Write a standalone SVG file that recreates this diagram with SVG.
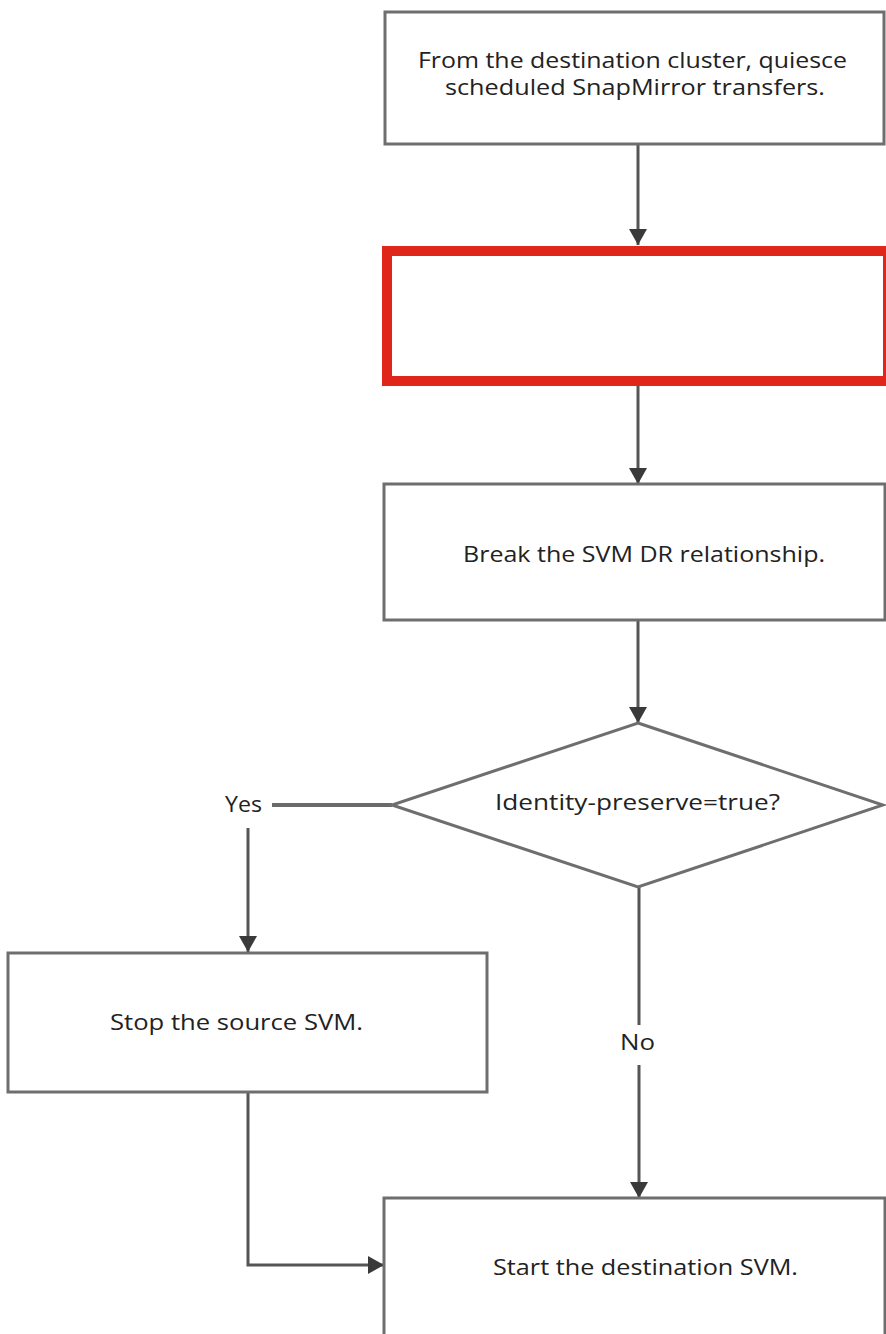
<svg xmlns="http://www.w3.org/2000/svg" width="886" height="1334" viewBox="0 0 886 1334">
<style>
.box{fill:#fff;stroke:#6e6e6e;stroke-width:3}
.red{fill:#fff;stroke:#e0261b;stroke-width:10}
.t{font-family:"Open Sans","Noto Sans","DejaVu Sans",sans-serif;font-size:21px;fill:#222}
.ln{fill:none;stroke:#555;stroke-width:3}
.yl{fill:none;stroke:#6a6a6a;stroke-width:4}
</style>
<defs>
<marker id="ah" viewBox="0 0 16 20" refX="16" refY="10" markerWidth="16" markerHeight="20" markerUnits="userSpaceOnUse" orient="auto">
<path d="M0,1 L16,10 L0,19 z" fill="#3a3a3a"/>
</marker>
</defs>
<rect width="886" height="1334" fill="#fff"/>
<g id="connectors">
<line class="ln" x1="638" y1="145" x2="638" y2="245" marker-end="url(#ah)"/>
<line class="ln" x1="638" y1="386" x2="638" y2="484" marker-end="url(#ah)"/>
<line class="ln" x1="638" y1="621" x2="638" y2="723" marker-end="url(#ah)"/>
<line class="yl" x1="272" y1="805" x2="392" y2="805"/>
<line class="ln" x1="248" y1="828" x2="248" y2="952" marker-end="url(#ah)"/>
<line class="ln" x1="639" y1="887" x2="639" y2="1025"/>
<line class="ln" x1="639" y1="1065" x2="639" y2="1198" marker-end="url(#ah)"/>
<polyline class="ln" points="248,1092 248,1265 384,1265" marker-end="url(#ah)"/>
<text class="t" x="225" y="812" textLength="37" lengthAdjust="spacingAndGlyphs">Yes</text>
<text class="t" x="620" y="1050" textLength="35" lengthAdjust="spacingAndGlyphs">No</text>
</g>
<g id="n1">
<rect class="box" x="385" y="12" width="499" height="132"/>
<text class="t" x="418" y="68" textLength="429" lengthAdjust="spacingAndGlyphs">From the destination cluster, quiesce</text>
<text class="t" x="445" y="95" textLength="380" lengthAdjust="spacingAndGlyphs">scheduled SnapMirror transfers.</text>
</g>
<g id="n2">
<rect class="red" x="387" y="251" width="501" height="130"/>
</g>
<g id="n3">
<rect class="box" x="384" y="484" width="501" height="136"/>
<text class="t" x="463" y="562" textLength="362" lengthAdjust="spacingAndGlyphs">Break the SVM DR relationship.</text>
</g>
<g id="n4">
<polygon class="box" points="638,723 883,805 638,887 392,805"/>
<text class="t" x="495" y="810" textLength="285" lengthAdjust="spacingAndGlyphs">Identity-preserve=true?</text>
</g>
<g id="n5">
<rect class="box" x="8" y="953" width="479" height="139"/>
<text class="t" x="110" y="1030" textLength="253" lengthAdjust="spacingAndGlyphs">Stop the source SVM.</text>
</g>
<g id="n6">
<rect class="box" x="384" y="1198" width="501" height="150"/>
<text class="t" x="493" y="1275" textLength="305" lengthAdjust="spacingAndGlyphs">Start the destination SVM.</text>
</g>
</svg>
